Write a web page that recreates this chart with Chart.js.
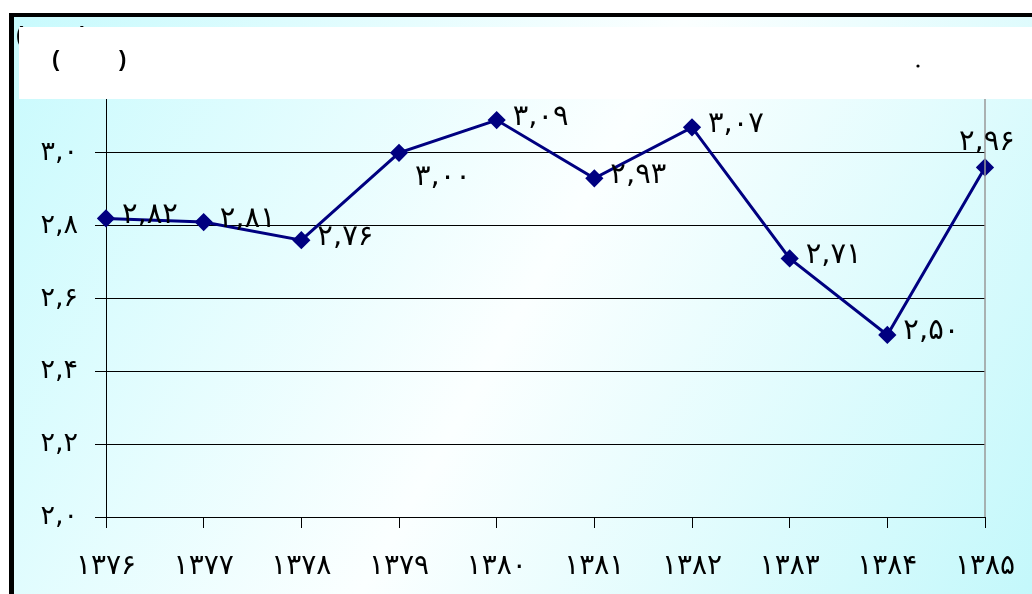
<!DOCTYPE html>
<html>
<head>
<meta charset="utf-8">
<script src="https://cdn.jsdelivr.net/npm/chart.js@4"></script>
<style>
  html, body { margin: 0; padding: 0; background: #fff; }
  canvas { display: block; }
</style>
</head>
<body>
<canvas id="myChart" width="1032" height="594"></canvas>
<script>
// ==== chart data ====
const years = ['۱۳۷۶', '۱۳۷۷', '۱۳۷۸', '۱۳۷۹', '۱۳۸۰', '۱۳۸۱', '۱۳۸۲', '۱۳۸۳', '۱۳۸۴', '۱۳۸۵'];
const values = [2.82, 2.81, 2.76, 3.00, 3.09, 2.93, 3.07, 2.71, 2.50, 2.96];
const valueLabels = ['۲,۸۲', '۲,۸۱', '۲,۷۶', '۳,۰۰', '۳,۰۹', '۲,۹۳', '۳,۰۷', '۲,۷۱', '۲,۵۰', '۲,۹۶'];
const yTickLabels = ['۲,۰', '۲,۲', '۲,۴', '۲,۶', '۲,۸', '۳,۰', '۳,۲'];

const faFont = "'DejaVu Sans', sans-serif";

// ==== background, frame and title box ====
const framePlugin = {
  id: 'frame',
  beforeDraw(chart) {
    const ctx = chart.ctx;
    const w = chart.width, h = chart.height;
    ctx.save();
    ctx.fillStyle = '#fff';
    ctx.fillRect(0, 0, w, h);
    const g = ctx.createLinearGradient(14, 17, w, h);
    g.addColorStop(0, '#c8fafd');
    g.addColorStop(0.5, '#fbffff');
    g.addColorStop(1, '#c4f8fb');
    ctx.fillStyle = g;
    ctx.fillRect(14, 17, w - 14, h - 17);
    ctx.fillStyle = '#000';
    ctx.fillRect(9, 13, w - 9, 4);
    ctx.fillRect(9, 13, 5, h - 13);
    ctx.restore();
    // wider digit spacing for the axis labels
    ctx.letterSpacing = '3px';
  },
  afterDraw(chart) {
    const ctx = chart.ctx;
    const area = chart.chartArea;
    ctx.letterSpacing = '0px';
    ctx.save();
    // right border of plot
    ctx.strokeStyle = '#999';
    ctx.lineWidth = 1.5;
    ctx.beginPath();
    ctx.moveTo(area.right, area.top);
    ctx.lineTo(area.right, area.bottom);
    ctx.stroke();

    // data labels
    const meta = chart.getDatasetMeta(0);
    ctx.font = "29px " + faFont;
    ctx.fillStyle = '#000';
    ctx.textBaseline = 'middle';
    ctx.textAlign = 'left';
    ctx.letterSpacing = '3px';
    meta.data.forEach((pt, i) => {
      let dx = 16, dy = -3;
      if (i === 3) dy = 25;
      if (i === values.length - 1) { dx = -26; dy = -25; }
      ctx.fillText(valueLabels[i], pt.x + dx, pt.y + dy);
    });
    ctx.letterSpacing = '0px';

    // title text partly hidden behind the white box
    ctx.font = "bold 22px 'Liberation Sans', sans-serif";
    ctx.fillText('(', 16, 36);
    ctx.fillText(')', 80, 36);

    // white title box
    ctx.fillStyle = '#fff';
    ctx.fillRect(19, 27, chart.width - 19, 72);
    ctx.fillStyle = '#000';
    ctx.font = "bold 22px 'Liberation Sans', sans-serif";
    ctx.fillText('(', 52, 60);
    ctx.fillText(')', 119, 60);
    ctx.beginPath();
    ctx.arc(918, 66, 1.6, 0, Math.PI * 2);
    ctx.fill();
    ctx.restore();
  }
};

const data = {
  labels: years,
  datasets: [{
    data: values,
    borderColor: '#000080',
    backgroundColor: '#000080',
    borderWidth: 3,
    pointStyle: 'rectRot',
    pointRadius: 7,
    pointHoverRadius: 7,
    tension: 0
  }]
};

const config = {
  type: 'line',
  data: data,
  options: {
    responsive: false,
    animation: false,
    layout: { padding: { left: 0, right: 47, top: 80, bottom: 0 } },
    plugins: {
      legend: { display: false },
      tooltip: { enabled: false }
    },
    scales: {
      x: {
        offset: false,
        grid: {
          drawOnChartArea: false,
          drawTicks: true,
          tickLength: 11,
          color: '#000'
        },
        border: { color: '#000' },
        ticks: {
          color: '#000',
          font: { family: faFont, size: 28 },
          padding: 22,
          maxRotation: 0,
          autoSkip: false
        },
        afterFit: (scale) => {
          scale.height = 77;
          scale.paddingLeft = 0;
          scale.paddingRight = 0;
        }
      },
      y: {
        min: 2.0,
        max: 3.2,
        grid: {
          color: '#000',
          lineWidth: 1,
          tickLength: 11
        },
        border: { color: '#000', width: 1 },
        ticks: {
          stepSize: 0.2,
          color: '#000',
          font: { family: faFont, size: 27 },
          padding: 17,
          callback: (v, i) => yTickLabels[i]
        },
        afterFit: (scale) => {
          scale.width = 106;
          scale.paddingTop = 0;
          scale.paddingBottom = 0;
        }
      }
    }
  },
  plugins: [framePlugin]
};

let myChart = new Chart(document.getElementById('myChart'), config);
</script>
</body>
</html>
